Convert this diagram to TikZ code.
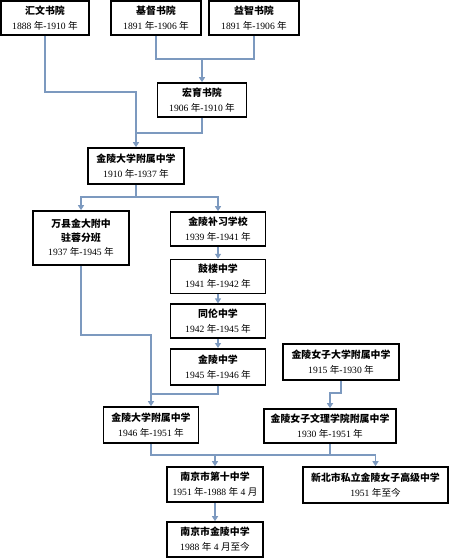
\documentclass[tikz,border=0pt]{standalone}
\usepackage{fontspec}
\setmainfont{Liberation Serif}
\newfontfamily\cjk{Noto Sans CJK SC}
\usepackage{tikz}
\usetikzlibrary{arrows.meta,positioning}
\definecolor{linkblue}{RGB}{124,153,191}
\newcommand\nian{{\cjk 年}}
\newcommand\yue{{\cjk 月}}
\newcommand\zhijin{{\cjk 至今}}
\newcommand\xm[1]{{\cjk\bfseries\fontsize{9.9}{15}\selectfont #1}}
\tikzset{
  school/.style={
    draw=black,
    line width=1.6pt,
    fill=white,
    align=center,
    minimum height=34pt,
    inner sep=2pt,
    font=\fontsize{9.6}{15}\selectfont
  },
  link/.style={-{Triangle[width=6pt,length=5pt]}, line width=1.4pt, draw=linkblue},
  joint/.style={line width=1.4pt, draw=linkblue}
}

\begin{document}
\begin{tikzpicture}[x=1pt,y=-1pt]
\useasboundingbox (0,0) rectangle (450,559);
\node[school, minimum width=88pt] (huiwen) at (45,18) {\xm{汇文书院}\\1888 \nian-1910 \nian};
\node[school, minimum width=90pt] (jidu) at (156,18) {\xm{基督书院}\\1891 \nian-1906 \nian};
\node[school, minimum width=90pt] (yizhi) at (254,18) {\xm{益智书院}\\1891 \nian-1906 \nian};
\node[school, minimum width=89pt] (hongyu) at (202,100) {\xm{宏育书院}\\1906 \nian-1910 \nian};
\node[school, minimum width=96pt, minimum height=36pt] (jinda1) at (136,166) {\xm{金陵大学附属中学}\\1910 \nian-1937 \nian};
\node[school, minimum width=96pt, minimum height=54pt, font=\fontsize{9.6}{14}\selectfont] (wanxian) at (81,238) {\xm{万县金大附中}\\\xm{驻蓉分班}\\1937 \nian-1945 \nian};
\node[school, minimum width=95pt] (buxi) at (218,229) {\xm{金陵补习学校}\\1939 \nian-1941 \nian};
\node[school, minimum width=95pt, below=12pt of buxi] (gulou) {\xm{鼓楼中学}\\1941 \nian-1942 \nian};
\node[school, minimum width=95pt, below=9pt of gulou] (tonglun) {\xm{同伦中学}\\1942 \nian-1945 \nian};
\node[school, minimum width=95pt, minimum height=36pt, below=9pt of tonglun] (jinling) {\xm{金陵中学}\\1945 \nian-1946 \nian};
\node[school, minimum width=116pt, minimum height=36pt] (jinnv) at (341,362) {\xm{金陵女子大学附属中学}\\1915 \nian-1930 \nian};
\node[school, minimum width=95pt, minimum height=36pt] (jinda2) at (151,425) {\xm{金陵大学附属中学}\\1946 \nian-1951 \nian};
\node[school, minimum width=132pt] (wenli) at (330,426) {\xm{金陵女子文理学院附属中学}\\1930 \nian-1951 \nian};
\node[school, minimum width=96pt, minimum height=35pt] (shizhong) at (215,484.5) {\xm{南京市第十中学}\\1951 \nian-1988 \nian{} 4 \yue};
\node[school, minimum width=145pt, minimum height=36pt] (xinbei) at (375.5,485) {\xm{新北市私立金陵女子高级中学}\\1951 \nian\zhijin};
\node[school, minimum width=96pt, minimum height=35pt] (jinzhong) at (215,539.5) {\xm{南京市金陵中学}\\1988 \nian{} 4 \yue\zhijin};

% junction points
\coordinate (jA) at (136,92);
\coordinate (jB) at (202,59);
\coordinate (jC) at (136,133);
\coordinate (jD) at (136,197);
\coordinate (jE) at (151,335);
\coordinate (jF) at (151,394);
\coordinate (jG) at (330,393);
\coordinate (jH) at (215,455);

\draw[link] (huiwen.south) |- (jA) -- (jinda1.north);
\draw[joint] (jidu.south) |- (jB) -| (yizhi.south);
\draw[link] (jB) -- (hongyu.north);
\draw[joint] (hongyu.south) |- (jC);
\draw[link] (jinda1.south) |- (jD) -| (wanxian.north);
\draw[link] (jinda1.south) |- (jD) -| (buxi.north);
\draw[link] (buxi) -- (gulou);
\draw[link] (gulou) -- (tonglun);
\draw[link] (tonglun) -- (jinling);
\draw[link] (wanxian.south) |- (jE) -- (jinda2.north);
\draw[joint] (jinling.south) |- (jF);
\draw[link] (jinnv.south) |- (jG) -- (wenli.north);
\draw[link] (jinda2.south) |- (jH) -| (xinbei.north);
\draw[link] (jH) -- (shizhong.north);
\draw[joint] (wenli.south) -- (wenli.south |- jH);
\draw[link] (shizhong) -- (jinzhong);
\end{tikzpicture}
\end{document}
